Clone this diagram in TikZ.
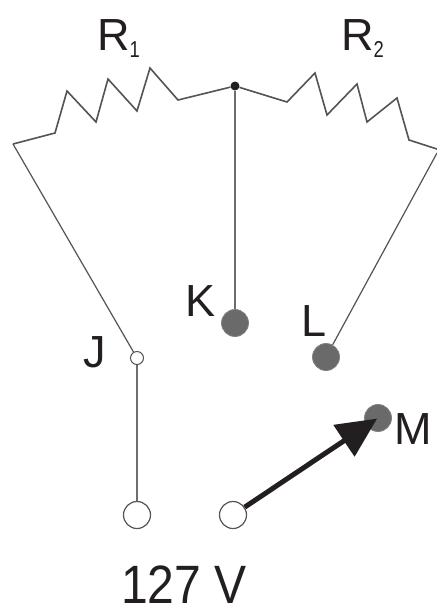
\documentclass[tikz,border=0pt]{standalone}
\usepackage{fontspec}
\setmainfont{Liberation Sans}
\usetikzlibrary{arrows.meta}
\definecolor{ink}{HTML}{231F20}
\definecolor{wire}{HTML}{555354}
\definecolor{contact}{HTML}{6A6A6A}
\tikzset{
  wireline/.style={draw=wire,line width=1.6pt,line join=miter},
  lightwire/.style={draw=wire,line width=1.2pt},
  stemline/.style={draw=wire!85,line width=1.9pt},
  opencontact/.style={circle,draw=wire,fill=white,line width=1.2pt,minimum size=27pt,inner sep=0pt},
  smallcontact/.style={circle,draw=wire,fill=white,line width=1pt,minimum size=13pt,inner sep=0pt},
  shutcontact/.style={circle,draw=contact!85,fill=contact,line width=.8pt,minimum size=27pt,inner sep=0pt},
  hubdot/.style={circle,fill=ink,minimum size=9pt,inner sep=0pt},
  lettering/.style={text=ink,inner sep=0pt,font=\fontsize{45pt}{45pt}\selectfont},
  bigarrow/.style={draw=ink,line width=5pt,-{Triangle[length=40pt,width=37pt,fill=ink]},shorten >=1pt}
}
\begin{document}
\begin{tikzpicture}[x=1pt,y=-1pt]
\useasboundingbox[fill=white] (0,0) rectangle (437,606);
% free ends
\coordinate (cornerL) at (13,144);
\coordinate (cornerR) at (437,149);
% nodes
\node[hubdot] (hub) at (235,86) {};
\node[shutcontact] (K) at (235,323) {};
\node[shutcontact] (L) at (326,357) {};
\node[shutcontact] (M) at (378,418) {};
\node[smallcontact] (J) at (137,358) {};
\node[opencontact] (A) at (137,515) {};
\node[opencontact] (B) at (233,515) {};
% resistors and wires
\draw[lightwire] (J) -- (cornerL);
\draw[wireline] (cornerL) -- (55,133) -- (67,91) -- (96,122) -- (108,79) -- (137,111) -- (150,68) -- (178,100) -- (hub);
\draw[wireline] (hub) -- (287,102) -- (315,73) -- (327,115) -- (357,84) -- (367,122) -- (397,98) -- (409,140) -- (cornerR);
\draw[lightwire] (cornerR) ++(0,4) -- (L);
\draw[stemline] (hub) -- (K);
\draw[stemline] (J) -- (A);
\draw[bigarrow] (B) -- (M.center);
% labels
\node[lettering,anchor=base west] (r1) at (97,50) {R\raisebox{-7pt}{\scalebox{.8}[1]{\fontsize{23pt}{23pt}\selectfont 1}}};
\node[lettering,anchor=base west] (r2) at (341,50) {R\raisebox{-7pt}{\scalebox{.8}[1]{\fontsize{23pt}{23pt}\selectfont 2}}};
\node[lettering,anchor=base] (k) at (201,316) {K};
\node[lettering,anchor=base] (l) at (314,336) {L};
\node[lettering,anchor=base] (j) at (95,367) {J};
\node[lettering,anchor=base] (m) at (413,444) {M};
\node[lettering,anchor=base,font=\fontsize{54pt}{54pt}\selectfont] (v) at (184,603) {\scalebox{.89}[1]{127 V}};
\end{tikzpicture}
\end{document}
